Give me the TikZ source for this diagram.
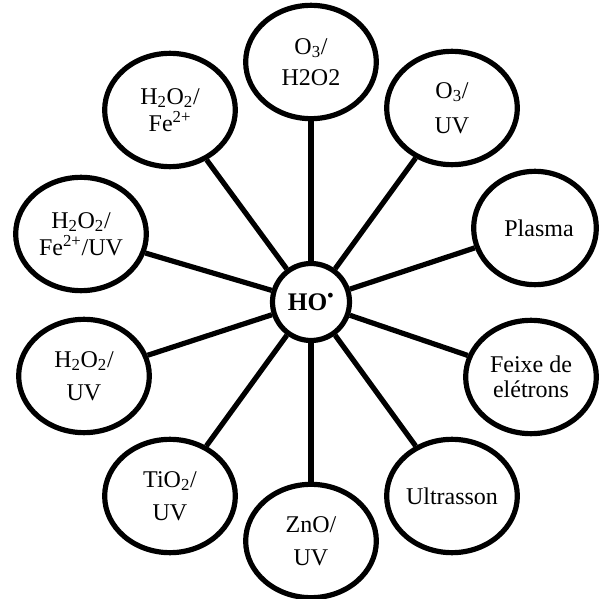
\documentclass[tikz,border=0pt]{standalone}
\usepackage{fontspec}
\setmainfont{Liberation Serif}
\usetikzlibrary{shapes.geometric}
\setlength{\lineskiplimit}{-20pt}
\begin{document}
\begin{tikzpicture}[x=0.75pt,y=-0.75pt,
  outer/.style={draw, line width=3.9pt, ellipse, inner sep=0pt,
    minimum width=98pt, minimum height=85pt, align=center,
    font=\fontsize{18}{25}\selectfont},
  tight/.style={font=\fontsize{18}{20}\selectfont},
  hub/.style={draw, circle, line width=3.9pt, minimum size=57.75pt,
    inner sep=0pt, font=\fontsize{19}{22}\selectfont\bfseries},
  spoke/.style={line width=3.9pt}]
\useasboundingbox (0,0) rectangle (601,599);
\node[hub] (c) at (311,302) {HO\textsuperscript{\textbullet}};
\node[outer, font=\fontsize{18}{23}\selectfont] (n1) at (311,62) {O\textsubscript{3}/\\H2O2};
\node[outer, font=\fontsize{18}{26}\selectfont] (n2) at (452,108) {O\textsubscript{3}/\\UV};
\node[outer, minimum width=92pt] (n3) at (535,228) {\hspace*{6pt}Plasma};
\node[outer, font=\fontsize{18}{18.5}\selectfont] (n4) at (531,377) {Feixe de\\elétrons};
\node[outer] (n5) at (452,496) {Ultrasson};
\node[outer] (n6) at (311,541) {ZnO/\\UV};
\node[outer] (n7) at (170,496) {TiO\textsubscript{2}/\\UV};
\node[outer] (n8) at (84,376) {H\textsubscript{2}O\textsubscript{2}/\\UV};
\node[outer, tight] (n9) at (81,234) {H\textsubscript{2}O\textsubscript{2}/\\Fe\textsuperscript{2+}/UV};
\node[outer, tight] (n10) at (170,110) {H\textsubscript{2}O\textsubscript{2}/\\Fe\textsuperscript{2+}};
\foreach \n in {n1,n2,n3,n4,n5,n6,n7,n8,n9,n10}
  \draw[spoke] (c) -- (\n);
\end{tikzpicture}
\end{document}
